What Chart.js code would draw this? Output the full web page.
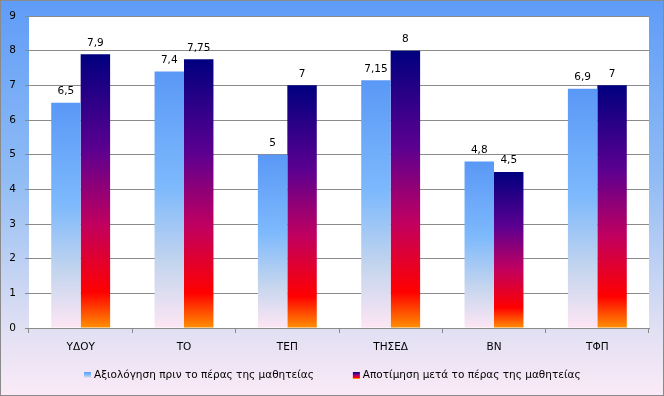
<!DOCTYPE html>
<html>
<head>
<meta charset="utf-8">
<script src="https://cdn.jsdelivr.net/npm/chart.js@4"></script>
<style>
  html, body { margin: 0; padding: 0; background: #ffffff; }
  #wrap { width: 664px; height: 396px; position: relative; }
</style>
</head>
<body>
<div id="wrap"><canvas id="scoreChart"></canvas></div>
<script>
const categoryLabels = ["ΥΔΟΥ", "ΤΟ", "ΤΕΠ", "ΤΗΣΕΔ", "ΒΝ", "ΤΦΠ"];
const beforeLabel = "Αξιολόγηση πριν το πέρας της μαθητείας";
const afterLabel = "Αποτίμηση μετά το πέρας της μαθητείας";
const beforeValues = [6.5, 7.4, 5, 7.15, 4.8, 6.9];
const afterValues = [7.9, 7.75, 7, 8, 4.5, 7];
const yTicks = [0, 1, 2, 3, 4, 5, 6, 7, 8, 9];

const fontFamily = "'DejaVu Sans', Verdana, sans-serif";
const fontSize = 10.5;
const blueStops = [[0, "#5a98f7"], [0.45, "#7db9fc"], [0.75, "#c4d5ee"], [1, "#fde6f4"]];
const darkStops = [[0, "#00007f"], [0.35, "#5c0090"], [0.62, "#c00060"], [0.87, "#ff0000"], [1, "#ff9000"]];

function barGradient(stops) {
  return (context) => {
    const chart = context.chart;
    if (!chart.chartArea || context.parsed === undefined) return stops[0][1];
    const yScale = chart.scales.y;
    const top = yScale.getPixelForValue(context.parsed.y);
    const bottom = yScale.getPixelForValue(0);
    const gradient = chart.ctx.createLinearGradient(0, top, 0, bottom);
    stops.forEach(([pos, color]) => gradient.addColorStop(pos, color));
    return gradient;
  };
}

function formatValue(value) {
  return String(value).replace(".", ",");
}

const frameBackground = {
  id: "frameBackground",
  beforeDraw(chart) {
    const { ctx, width, height, chartArea } = chart;
    ctx.save();
    const bg = ctx.createLinearGradient(0, 0, 0, height);
    bg.addColorStop(0, "#5f9cf8");
    bg.addColorStop(0.45, "#90bcf4");
    bg.addColorStop(0.82, "#dfdff3");
    bg.addColorStop(1, "#fbeaf7");
    ctx.fillStyle = bg;
    ctx.fillRect(0, 0, width, height);
    ctx.fillStyle = "#ffffff";
    ctx.fillRect(chartArea.left, chartArea.top, chartArea.right - chartArea.left, chartArea.bottom - chartArea.top);
    ctx.strokeStyle = "#8a8a8a";
    ctx.lineWidth = 1;
    ctx.strokeRect(0.5, 0.5, width - 1, height - 1);
    ctx.restore();
  }
};

const valueLabels = {
  id: "valueLabels",
  afterDatasetsDraw(chart) {
    const { ctx } = chart;
    ctx.save();
    ctx.font = fontSize + "px " + fontFamily;
    ctx.fillStyle = "#000000";
    ctx.textAlign = "center";
    ctx.textBaseline = "bottom";
    chart.data.datasets.forEach((dataset, di) => {
      chart.getDatasetMeta(di).data.forEach((bar, i) => {
        ctx.fillText(formatValue(dataset.data[i]), bar.x, bar.y - 6);
      });
    });
    ctx.restore();
  }
};

const bottomLegend = {
  id: "bottomLegend",
  afterDraw(chart) {
    const { ctx, width } = chart;
    const y = 375;
    const box = 7;
    const textGap = 3;
    const itemGap = 39;
    ctx.save();
    ctx.font = fontSize + "px " + fontFamily;
    ctx.textBaseline = "middle";
    const items = [
      { text: beforeLabel, stops: blueStops },
      { text: afterLabel, stops: darkStops }
    ];
    const widths = items.map((item) => box + textGap + ctx.measureText(item.text).width);
    const total = widths.reduce((a, b) => a + b, 0) + itemGap;
    let x = Math.round((width - total) / 2);
    items.forEach((item, i) => {
      const g = ctx.createLinearGradient(0, y - box / 2, 0, y + box / 2);
      item.stops.forEach(([pos, color]) => g.addColorStop(pos, color));
      ctx.fillStyle = g;
      ctx.fillRect(x, Math.round(y - box / 2), box, box);
      ctx.fillStyle = "#000000";
      ctx.fillText(item.text, x + box + textGap, y);
      x += widths[i] + itemGap;
    });
    ctx.restore();
  }
};

new Chart(document.getElementById("scoreChart"), {
  type: "bar",
  data: {
    labels: categoryLabels,
    datasets: [
      {
        label: beforeLabel,
        data: beforeValues,
        backgroundColor: barGradient(blueStops),
        borderWidth: 0,
        categoryPercentage: 0.57,
        barPercentage: 1
      },
      {
        label: afterLabel,
        data: afterValues,
        backgroundColor: barGradient(darkStops),
        borderWidth: 0,
        categoryPercentage: 0.57,
        barPercentage: 1
      }
    ]
  },
  options: {
    responsive: true,
    maintainAspectRatio: false,
    animation: false,
    layout: {
      padding: { left: 0, right: 15, top: 16, bottom: 0 }
    },
    plugins: {
      legend: { display: false },
      tooltip: { enabled: false }
    },
    scales: {
      x: {
        grid: {
          offset: true,
          drawOnChartArea: false,
          drawTicks: true,
          tickLength: 5,
          color: "#8a8a8a"
        },
        border: { display: true, color: "#8a8a8a" },
        ticks: {
          color: "#000000",
          padding: 8,
          font: { family: fontFamily, size: fontSize }
        },
        afterFit(scale) {
          scale.height = 68;
        }
      },
      y: {
        min: 0,
        max: 9,
        afterBuildTicks(scale) {
          scale.ticks = yTicks.map((value) => ({ value }));
        },
        grid: {
          color: "#8a8a8a",
          tickLength: 4,
          drawTicks: true
        },
        border: { display: false },
        ticks: {
          color: "#000000",
          padding: 9,
          font: { family: fontFamily, size: fontSize }
        },
        afterFit(scale) {
          scale.width = 29;
        }
      }
    }
  },
  plugins: [frameBackground, valueLabels, bottomLegend]
});
</script>
</body>
</html>
